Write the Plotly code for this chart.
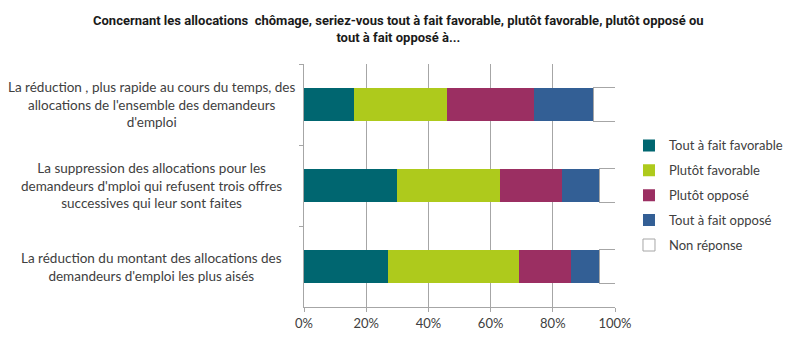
import plotly.graph_objects as go

categories = [
    "La réduction , plus rapide au cours du temps, des<br>allocations de l'ensemble des demandeurs<br>d'emploi",
    "La suppression des allocations pour les<br>demandeurs d'mploi qui refusent trois offres<br>successives qui leur sont faites",
    "La réduction du montant des allocations des<br>demandeurs d'emploi les plus aisés",
]
cat_ids = ["c1", "c2", "c3"]
series_names = ["Tout à fait favorable", "Plutôt favorable", "Plutôt opposé",
                "Tout à fait opposé", "Non réponse"]
tout_favorable = [16, 30, 27]
plutot_favorable = [30, 33, 42]
plutot_oppose = [28, 20, 17]
tout_oppose = [19, 12, 9]
non_reponse = [7, 5, 5]
series_values = [tout_favorable, plutot_favorable, plutot_oppose, tout_oppose, non_reponse]
colors = ["#006670", "#aeca1c", "#9b2f62", "#335f95", "#ffffff"]
tick_vals = [0, 20, 40, 60, 80, 100]
tick_text = ["0%", "20%", "40%", "60%", "80%", "100%"]
title_text = ("<b>Concernant les allocations  chômage, seriez-vous tout à fait favorable, "
              "plutôt favorable, plutôt opposé ou<br>tout à fait opposé à...</b>")

fig = go.Figure()
for i, (name, vals, col) in enumerate(zip(series_names, series_values, colors)):
    line = dict(color="#a6a6a6", width=1) if col == "#ffffff" else dict(width=0)
    fig.add_trace(go.Bar(
        y=cat_ids, x=vals, name=name, orientation="h", legendgroup="g%d" % i,
        marker=dict(color=col, line=line),
    ))

for cid, label in zip(cat_ids, categories):
    fig.add_annotation(
        x=-0.489, xref="paper", y=cid, yref="y", text=label,
        showarrow=False, xanchor="center", align="center",
        font=dict(family="Lato, Open Sans, sans-serif", size=13.5, color="#404040"),
    )

fig.add_annotation(
    x=0.305, xref="paper", y=1.144, yref="paper", yanchor="middle", xanchor="center",
    text=title_text, showarrow=False, align="center",
    font=dict(family="Liberation Sans Narrow, Roboto, sans-serif", size=13, color="#1a1a1a"),
)

fig.update_layout(
    barmode="stack",
    bargap=0.59,
    width=800, height=343,
    margin=dict(l=304, r=181, t=64, b=36),
    paper_bgcolor="white", plot_bgcolor="white",
    legend=dict(
        x=1.045, xanchor="left", y=0.459, yanchor="middle",
        traceorder="grouped",
        font=dict(family="Lato, Open Sans, sans-serif", size=13, color="#404040"),
        itemwidth=30, tracegroupgap=5, bgcolor="rgba(0,0,0,0)",
    ),
    xaxis=dict(
        range=[0, 100], tickvals=tick_vals, ticktext=tick_text,
        showgrid=True, gridcolor="#a6a6a6", gridwidth=1,
        showline=True, linecolor="#a6a6a6", ticks="outside", ticklen=4, tickcolor="#a6a6a6",
        tickfont=dict(family="Lato, Open Sans, sans-serif", size=13, color="#404040"),
        zeroline=False, fixedrange=True,
    ),
    yaxis=dict(
        autorange="reversed", showticklabels=False,
        showline=True, linecolor="#a6a6a6", ticks="outside", ticklen=4, tickcolor="#a6a6a6",
        tickson="boundaries", showgrid=False,
    ),
)

fig.write_html("out.html")
